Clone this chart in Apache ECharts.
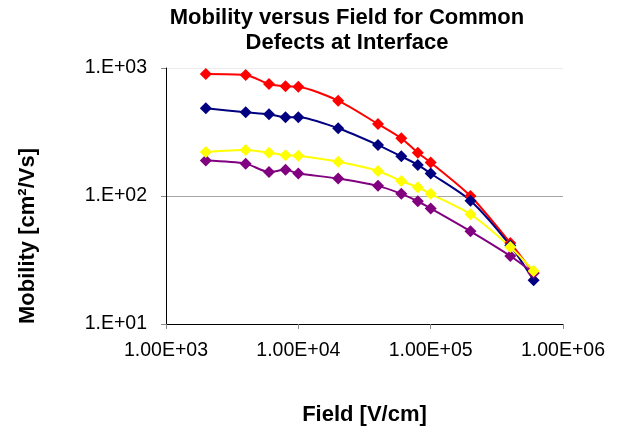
<!DOCTYPE html>
<html>
<head>
<meta charset="utf-8">
<script src="https://cdn.jsdelivr.net/npm/echarts@6/dist/echarts.min.js"></script>
<style>
  html, body { margin: 0; padding: 0; background: #fff; }
  #chart { width: 636px; height: 433px; }
</style>
</head>
<body>
<div id="chart"></div>
<script>
  // field values [V/cm]
  var field = [2e3, 4e3, 6e3, 8e3, 1e4, 2e4, 4e4, 6e4, 8e4, 1e5, 2e5, 4e5, 6e5]
  // mobility [cm2/Vs]
  var redVals = [898, 881, 750, 719, 714, 556, 365, 282, 218, 183, 100, 43, 25]
  var navyVals = [484, 451, 435, 412, 412, 338, 250, 204, 175, 150, 92, 41, 22]
  var purpleVals = [189, 179, 154, 160, 150, 137, 120, 104, 91, 80, 53, 34, 25]
  var yellowVals = [221, 229, 218, 208, 206, 185, 157, 131, 117, 104, 72, 40, 26]

  var font = 'Liberation Sans, Arial, sans-serif'

  function pairs (vals) {
    var out = []
    for (var i = 0; i < field.length; i++) {
      out.push([field[i], vals[i]])
    }
    return out
  }

  function expLabel (v, digits) {
    var e = Math.round(Math.log10(v))
    var m = v / Math.pow(10, e)
    var ms = digits > 0 ? m.toFixed(digits) : Math.round(m) + '.'
    var es = (e < 10 ? '0' : '') + e
    return ms + 'E+' + es
  }

  function makeSeries (color, vals) {
    return {
      type: 'line',
      smooth: 0.25,
      data: pairs(vals),
      symbol: 'diamond',
      symbolSize: 12,
      lineStyle: { color: color, width: 2 },
      itemStyle: { color: color },
      animation: false
    }
  }

  var chart = echarts.init(document.getElementById('chart'))
  var option = {
    backgroundColor: '#fff',
    title: {
      text: 'Mobility versus Field for Common\nDefects at Interface',
      left: 342,
      textAlign: 'center',
      top: 0,
      textStyle: {
        fontFamily: font,
        fontWeight: 'bold',
        fontSize: 22,
        lineHeight: 25,
        color: '#000'
      }
    },
    // y axis title sits below the plot middle, as in the original
    graphic: [{
      type: 'text',
      x: 28,
      y: 236,
      rotation: Math.PI / 2,
      style: {
        text: 'Mobility [cm\u00b2/Vs]',
        fontFamily: font,
        fontWeight: 'bold',
        fontSize: 22,
        fill: '#000',
        textAlign: 'center',
        textVerticalAlign: 'middle'
      }
    }],
    grid: { left: 166, right: 73, top: 68, bottom: 109 },
    xAxis: {
      type: 'log',
      logBase: 10,
      min: 1e3,
      max: 1e6,
      name: 'Field [V/cm]',
      nameLocation: 'middle',
      nameGap: 80,
      nameTextStyle: { fontFamily: font, fontWeight: 'bold', fontSize: 22, color: '#000' },
      axisLine: { show: true, lineStyle: { color: '#000', width: 1 } },
      axisTick: { show: true, length: 5, lineStyle: { color: '#888' } },
      axisLabel: {
        fontFamily: font,
        fontSize: 19.5,
        color: '#000',
        margin: 17,
        formatter: function (v) { return expLabel(v, 2) }
      },
      splitLine: { show: false }
    },
    yAxis: {
      type: 'log',
      logBase: 10,
      min: 10,
      max: 1000,
      axisLine: { show: true, lineStyle: { color: '#000', width: 1 } },
      axisTick: { show: true, length: 5, lineStyle: { color: '#888' } },
      axisLabel: {
        fontFamily: font,
        fontSize: 19.5,
        color: '#000',
        margin: 19,
        formatter: function (v) { return expLabel(v, 0) }
      },
      splitLine: { show: true, lineStyle: { color: ['#000', '#a6a6a6', '#ececec'], width: 1 } }
    },
    series: [
      makeSeries('#ff0000', redVals),
      makeSeries('#000080', navyVals),
      makeSeries('#800080', purpleVals),
      makeSeries('#ffff00', yellowVals)
    ]
  }
  chart.setOption(option)
</script>
</body>
</html>
